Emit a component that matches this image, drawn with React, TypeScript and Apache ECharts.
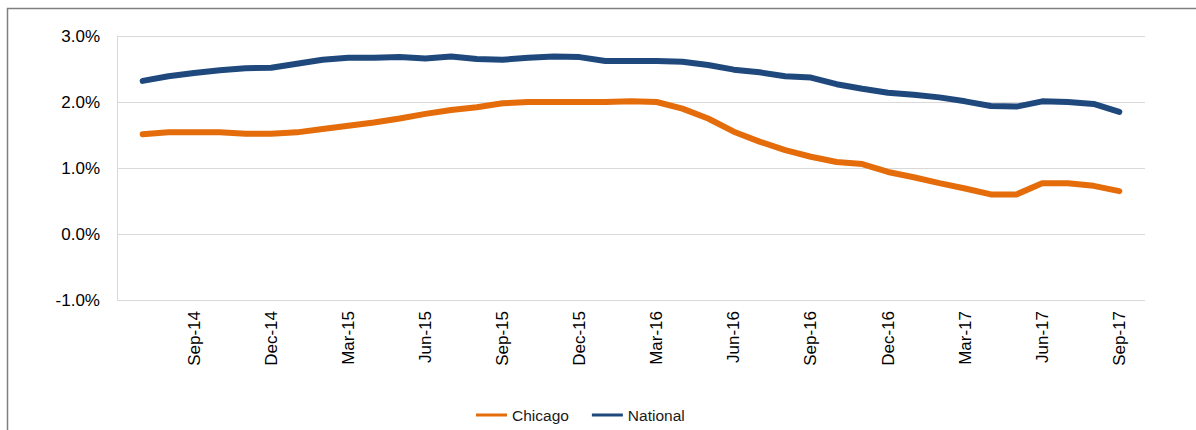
import React, { useEffect, useRef } from "react";
import * as echarts from "echarts";

const months: string[] = [
  "Jun-14",
  "Jul-14", "Aug-14", "Sep-14", "Oct-14", "Nov-14", "Dec-14",
  "Jan-15", "Feb-15", "Mar-15", "Apr-15", "May-15", "Jun-15",
  "Jul-15", "Aug-15", "Sep-15", "Oct-15", "Nov-15", "Dec-15",
  "Jan-16", "Feb-16", "Mar-16", "Apr-16", "May-16", "Jun-16",
  "Jul-16", "Aug-16", "Sep-16", "Oct-16", "Nov-16", "Dec-16",
  "Jan-17", "Feb-17", "Mar-17", "Apr-17", "May-17", "Jun-17",
  "Jul-17", "Aug-17", "Sep-17",
  "Oct-17",
];

const chicago: (number | null)[] = [
  null,
  1.51, 1.54, 1.54, 1.54, 1.52, 1.52,
  1.54, 1.59, 1.64, 1.69, 1.75, 1.82,
  1.88, 1.92, 1.98, 2.0, 2.0, 2.0,
  2.0, 2.01, 2.0, 1.9, 1.75, 1.55,
  1.4, 1.27, 1.17, 1.09, 1.06, 0.94,
  0.86, 0.77, 0.69, 0.6, 0.6, 0.77,
  0.77, 0.73, 0.65,
  null,
];

const national: (number | null)[] = [
  null,
  2.32, 2.39, 2.44, 2.48, 2.51, 2.52,
  2.58, 2.64, 2.67, 2.67, 2.68, 2.66,
  2.69, 2.65, 2.64, 2.67, 2.69, 2.68,
  2.62, 2.62, 2.62, 2.61, 2.56, 2.49,
  2.45, 2.39, 2.37, 2.27, 2.2, 2.14,
  2.11, 2.07, 2.01, 1.94, 1.93, 2.01,
  2.0, 1.97, 1.85,
  null,
];

const labelMonths: string[] = ["Mar", "Jun", "Sep", "Dec"];

const FONT = "'Liberation Sans', Arial, sans-serif";

export default function App() {
  const ref = useRef<HTMLDivElement>(null);

  useEffect(() => {
    if (!ref.current) return;
    const chart = echarts.init(ref.current, null, { renderer: "svg" });
    chart.setOption({
      animation: false,
      backgroundColor: "#ffffff",
      textStyle: { fontFamily: FONT },
      grid: { left: 117, right: 51, top: 36, bottom: 130, containLabel: false },
      graphic: [
        {
          type: "rect",
          shape: { x: 7.5, y: 8.5, width: 2000, height: 1000 },
          style: { fill: "none", stroke: "#7f7f7f", lineWidth: 1.5 },
          silent: true,
        },
      ],
      legend: {
        left: 471,
        top: 402,
        icon: "rect",
        itemWidth: 31,
        itemHeight: 3,
        itemGap: 23,
        textStyle: { fontSize: 15.5, color: "#1a1a1a", fontFamily: FONT },
        data: ["Chicago", "National"],
      },
      xAxis: {
        type: "category",
        data: months,
        boundaryGap: false,
        axisLine: { show: false, onZero: false },
        axisTick: { show: false },
        splitLine: { show: false },
        axisLabel: {
          rotate: 90,
          margin: 11,
          fontSize: 17,
          color: "#000000",
          fontFamily: FONT,
          interval: (index: number, value: string) =>
            index > 0 && index < months.length - 1 && labelMonths.includes(value.slice(0, 3)),
        },
      },
      yAxis: {
        type: "value",
        min: -1,
        max: 3,
        interval: 1,
        axisLine: { show: true, lineStyle: { color: "#d9d9d9", width: 1 } },
        axisTick: { show: false },
        splitLine: { show: true, lineStyle: { color: "#d9d9d9", width: 1 } },
        axisLabel: {
          margin: 17,
          fontSize: 17,
          color: "#000000",
          fontFamily: FONT,
          formatter: (v: number) => v.toFixed(1) + "%",
        },
      },
      series: [
        {
          name: "Chicago",
          type: "line",
          data: chicago,
          symbol: "none",
          showSymbol: false,
          connectNulls: false,
          itemStyle: { color: "#E46C0A" },
          lineStyle: { color: "#E46C0A", width: 6, cap: "round", join: "round" },
        },
        {
          name: "National",
          type: "line",
          data: national,
          symbol: "none",
          showSymbol: false,
          connectNulls: false,
          itemStyle: { color: "#1F497D" },
          lineStyle: { color: "#1F497D", width: 6, cap: "round", join: "round" },
        },
      ],
    });
    return () => chart.dispose();
  }, []);

  return (
    <div
      ref={ref}
      style={{ position: "fixed", left: 0, top: 0, width: 1196, height: 430 }}
    />
  );
}
